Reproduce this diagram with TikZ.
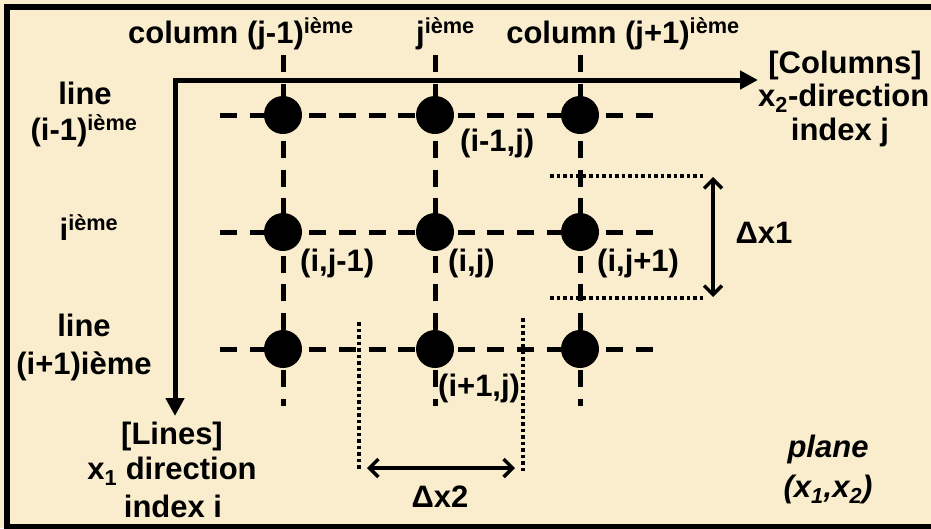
\documentclass[tikz,border=0pt]{standalone}
\usepackage{fontspec}
\setmainfont{Liberation Sans}
\usetikzlibrary{arrows.meta,positioning}
\definecolor{parchment}{HTML}{F9EDCE}
\newcommand\ieme{\textsuperscript{ième}}

\begin{document}
\begin{tikzpicture}[x=1pt,y=-1pt,
  lbl/.style={font=\fontsize{31}{33}\selectfont\bfseries,inner sep=0pt,anchor=base},
  gridpt/.style={circle,fill=black,minimum size=38pt,inner sep=0pt},
  colline/.style={line width=5pt,dash pattern=on 17pt off 11.67pt},
  rowline/.style={line width=5pt,dash pattern=on 17pt off 12.7pt},
  guide/.style={line width=4pt,dash pattern=on 3.5pt off 3pt},
  axis/.style={line width=5pt,{Triangle[length=18pt,width=18pt]}-{Triangle[length=18pt,width=18pt]}},
  deltaarrow/.style={line width=3.5pt,{Straight Barb[length=9pt,width=18pt]}-{Straight Barb[length=9pt,width=18pt]}}]
  \useasboundingbox (0,0) rectangle (931,528);
  \clip (0,0) rectangle (931,528);
  \fill[parchment] (0,0) rectangle (931,528);
  \draw[line width=6pt] (7,7) rectangle (950,527);

  % dashed grid lines
  \foreach \x/\c in {283/1,435/2,580/3} {
    \coordinate (ctop\c) at (\x,55);
    \coordinate (cbot\c) at (\x,406);
    \draw[colline] (ctop\c) -- (cbot\c);
  }
  \foreach \y/\r in {115/1,232/2,349/3} {
    \coordinate (rleft\r) at (220,\y);
    \coordinate (rright\r) at (653,\y);
    \draw[rowline] (rleft\r) -- (rright\r);
  }

  % axes
  \coordinate (origin) at (175,80);
  \coordinate (x2end) at (758,80);
  \coordinate (x1end) at (175,416);
  \draw[axis] (x1end) -- (origin) -- (x2end);

  % grid points
  \foreach \x/\c in {283/1,435/2,580/3}
    \foreach \y/\r in {115/1,232/2,349/3}
      \node[gridpt] (p\r\c) at (\x,\y) {};

  % column labels
  \node[lbl] (colA) at (241,43) {column (j-1)\ieme};
  \node[lbl,anchor=base west] (colB) at (416,43) {j\ieme};
  \node[lbl] (colC) at (623,43) {column (j+1)\ieme};
  \node[lbl] (colhead) at (845,73) {[Columns]};
  \node[lbl,anchor=base west] (coldir) at (758,106) {x\textsubscript{2}-direction};
  \node[lbl] (colidx) at (840,140) {index j};

  % line labels
  \node[lbl] (rowA1) at (85,104) {line};
  \node[lbl] (rowA2) at (84,140) {(i-1)\ieme};
  \node[lbl] (rowB) at (89,240) {i\ieme};
  \node[lbl] (rowC1) at (84,336) {line};
  \node[lbl] (rowC2) at (84,374) {(i+1)ième};
  \node[lbl] (rowhead) at (172,444) {[Lines]};
  \node[lbl] (rowdir) at (172,479) {x\textsubscript{1} direction};
  \node[lbl] (rowidx) at (173,517) {index i};

  % point labels
  \node[lbl,anchor=base west] (l12) at (460,151) {(i-1,j)};
  \node[lbl,anchor=base west] (l21) at (300,271) {(i,j-1)};
  \node[lbl,anchor=base west] (l22) at (448,271) {(i,j)};
  \node[lbl,anchor=base west] (l23) at (597,271) {(i,j+1)};
  \node[lbl,anchor=base west] (l32) at (438,396) {(i+1,j)};

  % spacing x1
  \coordinate (g1a) at (550,176);
  \coordinate (g1b) at (703,176);
  \coordinate (g2a) at (550,298);
  \coordinate (g2b) at (703,298);
  \draw[guide] (g1a) -- (g1b);
  \draw[guide] (g2a) -- (g2b);
  \coordinate (dx1top) at (713,177);
  \coordinate (dx1bot) at (713,297);
  \draw[deltaarrow] (dx1top) -- (dx1bot);
  \node[lbl] (dx1) at (764,243) {Δx1};

  % spacing x2
  \coordinate (g3a) at (359,322);
  \coordinate (g3b) at (359,469);
  \coordinate (g4a) at (523,318);
  \coordinate (g4b) at (523,472);
  \draw[guide] (g3a) -- (g3b);
  \draw[guide] (g4a) -- (g4b);
  \coordinate (dx2left) at (367,468);
  \coordinate (dx2right) at (515,468);
  \draw[deltaarrow] (dx2left) -- (dx2right);
  \node[lbl] (dx2) at (440,507) {Δx2};

  % plane
  \node[lbl] (plane1) at (828,457) {\itshape plane};
  \node[lbl] (plane2) at (828,497) {\itshape (x\textsubscript{1},x\textsubscript{2})};
\end{tikzpicture}
\end{document}
